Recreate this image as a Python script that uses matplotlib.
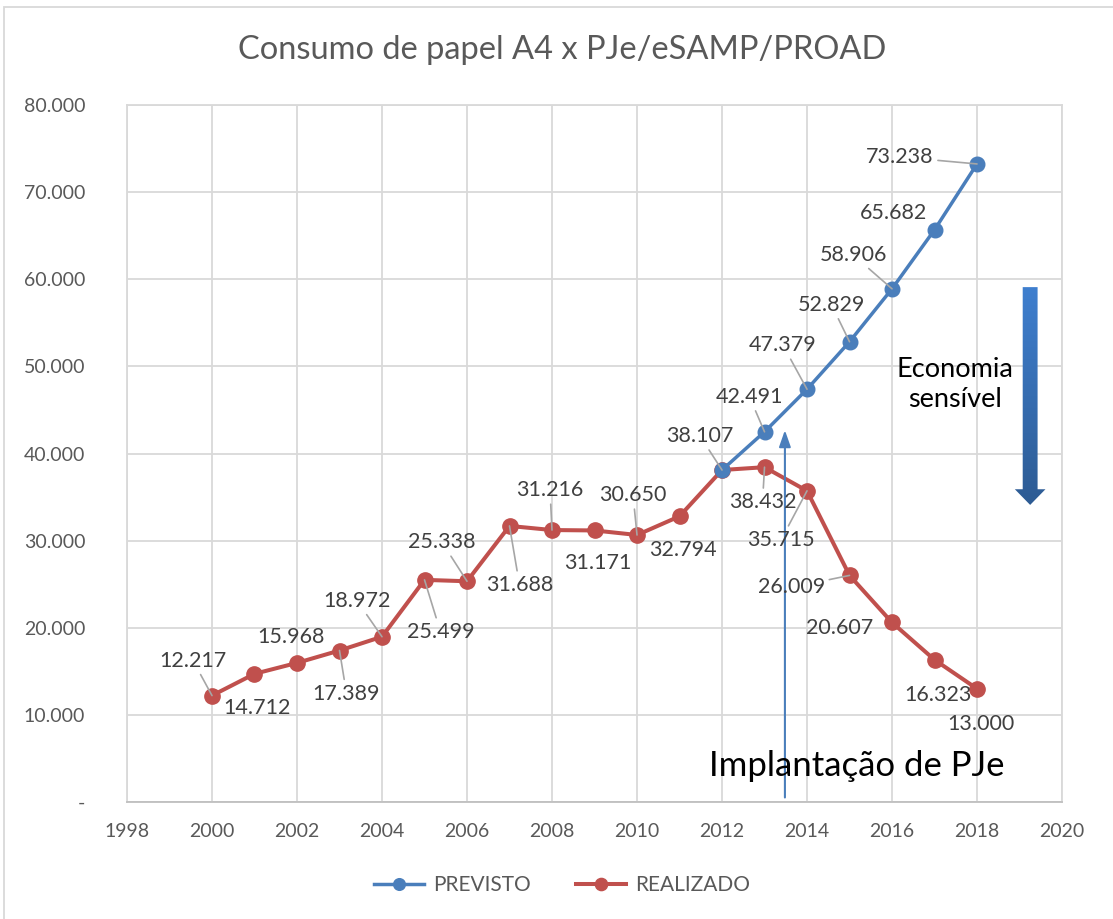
import matplotlib.pyplot as plt
import matplotlib.patches as mpatches
from matplotlib.colors import LinearSegmentedColormap
import numpy as np

# data
anos_prev = [2012, 2013, 2014, 2015, 2016, 2017, 2018]
previsto = [38107, 42491, 47379, 52829, 58906, 65682, 73238]

anos_real = list(range(2000, 2019))
realizado = [12217, 14712, 15968, 17389, 18972, 25499, 25338, 31688, 31216, 31171,
             30650, 32794, 38107, 38432, 35715, 26009, 20607, 16323, 13000]

x_ticks = list(range(1998, 2021, 2))
y_ticks = list(range(0, 80001, 10000))

# label offsets in pixels (dx, dy, leader line?)
off_real = [(-19, 35, True), (2, -34, False), (-6, 26, False), (7, -43, True),
            (-25, 36, True), (16, -52, True), (-25, 39, True), (10, -59, True),
            (-2, 40, True), (3, -33, False), (-4, 40, True), (3, -34, False),
            (-22, 34, True), (-2, -35, True), (-26, -49, True), (-58, -12, True),
            (-52, -6, False), (3, -35, False), (4, -35, False)]
off_prev = [None, (-15, 35, True), (-24, 44, True), (-18, 37, True),
            (-39, 34, True), (-41, 17, False), (-77, 7, True)]

BLUE = '#4a7ebb'
RED = '#c0504d'
GRAY = '#595959'

plt.rcParams['font.family'] = ['Lato', 'DejaVu Sans']


def fmt(v):
    if v == 0:
        return '-'
    return f'{v:,.0f}'.replace(',', '.')


fig = plt.figure(figsize=(11.13, 9.19), dpi=100)
ax = fig.add_axes([0.1141, 0.1273, 0.8401, 0.7584])

ax.plot(anos_prev, previsto, color=BLUE, lw=2.5, marker='o', ms=10.5, label='PREVISTO', zorder=4)
ax.plot(anos_real, realizado, color=RED, lw=2.9, marker='o', ms=11, label='REALIZADO', zorder=3)


def put_labels(xs, ys, offs):
    for x, y, o in zip(xs, ys, offs):
        if o is None:
            continue
        dx, dy, lead = o
        kw = {}
        if lead:
            kw['arrowprops'] = dict(arrowstyle='-', color='#a6a6a6', lw=1.2, shrinkA=1, shrinkB=0)
        ax.annotate(fmt(y), (x, y), xytext=(dx, dy), textcoords='offset pixels',
                    ha='center', va='center', fontsize=15.5, color='#404040', zorder=6, **kw)


put_labels(anos_real, realizado, off_real)
put_labels(anos_prev, previsto, off_prev)

ax.set_xlim(1998, 2020)
ax.set_ylim(0, 80000)
ax.set_xticks(x_ticks)
ax.set_yticks(y_ticks)
ax.set_yticklabels([fmt(v) for v in y_ticks])
ax.tick_params(axis='both', length=0, labelsize=14, labelcolor=GRAY)
ax.tick_params(axis='y', pad=30)
ax.tick_params(axis='x', pad=15)
ax.grid(True, color='#d9d9d9', lw=1.3)
ax.set_axisbelow(True)
for s in ax.spines.values():
    s.set_color('#d9d9d9')
    s.set_linewidth(1.3)
ax.spines['bottom'].set_color('#bfbfbf')

fig.text(562 / 1113, 1 - 50 / 919, 'Consumo de papel A4 x PJe/eSAMP/PROAD', fontsize=23.5,
         color=GRAY, ha='center', va='center')

# Implantação de PJe
ax.annotate('', xy=(2013.48, 43000), xytext=(2013.48, 200),
            arrowprops=dict(arrowstyle='-|>,head_length=1.0,head_width=0.35', color=BLUE, lw=1.5))
ax.text(2015.18, 4100, 'Implantação de PJe', fontsize=25, color='black', ha='center', va='center')

# Economia sensível arrow with gradient
arrow = mpatches.FancyArrow(2019.25, 59100, 0, -25000, width=0.35, head_width=0.72,
                            head_length=1800, length_includes_head=True, lw=0)
ax.add_patch(arrow)
arrow.set_facecolor('none')
grad = np.linspace(0, 1, 256).reshape(-1, 1)
cmap = LinearSegmentedColormap.from_list('g', ['#2d5b93', '#3f7fcf'])
im = ax.imshow(grad, cmap=cmap, extent=[2018.8, 2019.7, 34000, 59200], aspect='auto',
               origin='lower', zorder=5)
im.set_clip_path(arrow)
ax.set_xlim(1998, 2020)
ax.set_ylim(0, 80000)
ax.text(2017.48, 47900, 'Economia\nsensível', fontsize=19.5, color='black', ha='center', va='center',
        linespacing=1.25)

fig.legend(loc='center', bbox_to_anchor=(0.505, 0.037), ncol=2, frameon=False, fontsize=15,
           labelcolor=GRAY, handlelength=2.4, columnspacing=2.2, markerscale=0.8, handletextpad=0.4)

# outer border
fig.add_artist(mpatches.Rectangle((4 / 1113, -0.01), 1.02, 1 - 7 / 919 + 0.01, transform=fig.transFigure,
                                  fill=False, ec='#d9d9d9', lw=1.3))

fig.savefig('out.png', dpi=100)
